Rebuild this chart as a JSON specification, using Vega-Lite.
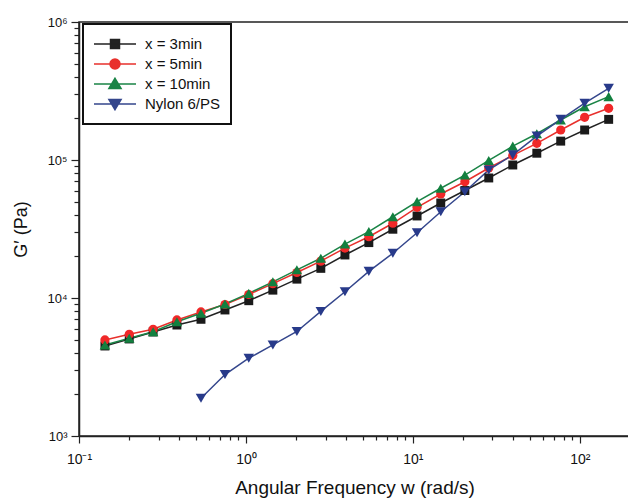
{
  "$schema": "https://vega.github.io/schema/vega-lite/v6.json",
  "width": 551,
  "height": 414,
  "autosize": "none",
  "padding": {"left": 79, "top": 22, "right": 0, "bottom": 64},
  "background": "white",
  "config": {
    "view": {"stroke": "#222", "strokeWidth": 1.5},
    "font": "Liberation Sans",
    "axis": {"grid": false, "labelFlush": false, "labelOverlap": false, "domainColor": "#222", "domainWidth": 1.5, "tickColor": "#222", "tickWidth": 1.2, "labelFontSize": 14, "labelColor": "#111", "titleFontSize": 19, "titleFontWeight": "normal", "titleColor": "#111", "titleFont": "Liberation Sans", "labelFont": "Liberation Sans"}
  },
  "data": {
    "values": [
      {"series": "x = 3min", "w": 0.143, "g": 4490}, {"series": "x = 3min", "w": 0.2, "g": 5050}, {"series": "x = 3min", "w": 0.278, "g": 5670}, {"series": "x = 3min", "w": 0.386, "g": 6370}, {"series": "x = 3min", "w": 0.538, "g": 7010}, {"series": "x = 3min", "w": 0.749, "g": 8190}, {"series": "x = 3min", "w": 1.04, "g": 9560}, {"series": "x = 3min", "w": 1.45, "g": 11400}, {"series": "x = 3min", "w": 2.02, "g": 13700}, {"series": "x = 3min", "w": 2.81, "g": 16400}, {"series": "x = 3min", "w": 3.92, "g": 20500}, {"series": "x = 3min", "w": 5.45, "g": 25200}, {"series": "x = 3min", "w": 7.59, "g": 31500}, {"series": "x = 3min", "w": 10.6, "g": 39300}, {"series": "x = 3min", "w": 14.7, "g": 48800}, {"series": "x = 3min", "w": 20.5, "g": 60100}, {"series": "x = 3min", "w": 28.5, "g": 74100}, {"series": "x = 3min", "w": 39.7, "g": 92000}, {"series": "x = 3min", "w": 55.3, "g": 112000}, {"series": "x = 3min", "w": 76.9, "g": 137000}, {"series": "x = 3min", "w": 107, "g": 165000}, {"series": "x = 3min", "w": 149, "g": 197000},
      {"series": "x = 5min", "w": 0.143, "g": 4970}, {"series": "x = 5min", "w": 0.2, "g": 5460}, {"series": "x = 5min", "w": 0.278, "g": 5930}, {"series": "x = 5min", "w": 0.386, "g": 6930}, {"series": "x = 5min", "w": 0.538, "g": 7920}, {"series": "x = 5min", "w": 0.749, "g": 8970}, {"series": "x = 5min", "w": 1.04, "g": 10600}, {"series": "x = 5min", "w": 1.45, "g": 12700}, {"series": "x = 5min", "w": 2.02, "g": 15300}, {"series": "x = 5min", "w": 2.81, "g": 18500}, {"series": "x = 5min", "w": 3.92, "g": 23000}, {"series": "x = 5min", "w": 5.45, "g": 27800}, {"series": "x = 5min", "w": 7.59, "g": 34800}, {"series": "x = 5min", "w": 10.6, "g": 45400}, {"series": "x = 5min", "w": 14.7, "g": 56700}, {"series": "x = 5min", "w": 20.5, "g": 69600}, {"series": "x = 5min", "w": 28.5, "g": 87500}, {"series": "x = 5min", "w": 39.7, "g": 108000}, {"series": "x = 5min", "w": 55.3, "g": 132000}, {"series": "x = 5min", "w": 76.9, "g": 165000}, {"series": "x = 5min", "w": 107, "g": 204000}, {"series": "x = 5min", "w": 149, "g": 237000},
      {"series": "x = 10min", "w": 0.143, "g": 4570}, {"series": "x = 10min", "w": 0.2, "g": 5110}, {"series": "x = 10min", "w": 0.278, "g": 5700}, {"series": "x = 10min", "w": 0.386, "g": 6730}, {"series": "x = 10min", "w": 0.538, "g": 7750}, {"series": "x = 10min", "w": 0.749, "g": 9050}, {"series": "x = 10min", "w": 1.04, "g": 10800}, {"series": "x = 10min", "w": 1.45, "g": 13100}, {"series": "x = 10min", "w": 2.02, "g": 16000}, {"series": "x = 10min", "w": 2.81, "g": 19400}, {"series": "x = 10min", "w": 3.92, "g": 24600}, {"series": "x = 10min", "w": 5.45, "g": 30300}, {"series": "x = 10min", "w": 7.59, "g": 38800}, {"series": "x = 10min", "w": 10.6, "g": 49900}, {"series": "x = 10min", "w": 14.7, "g": 62400}, {"series": "x = 10min", "w": 20.5, "g": 77800}, {"series": "x = 10min", "w": 28.5, "g": 99200}, {"series": "x = 10min", "w": 39.7, "g": 126000}, {"series": "x = 10min", "w": 55.3, "g": 155000}, {"series": "x = 10min", "w": 76.9, "g": 195000}, {"series": "x = 10min", "w": 107, "g": 243000}, {"series": "x = 10min", "w": 149, "g": 288000},
      {"series": "Nylon 6/PS", "w": 0.538, "g": 1880}, {"series": "Nylon 6/PS", "w": 0.749, "g": 2790}, {"series": "Nylon 6/PS", "w": 1.04, "g": 3660}, {"series": "Nylon 6/PS", "w": 1.45, "g": 4570}, {"series": "Nylon 6/PS", "w": 2.02, "g": 5720}, {"series": "Nylon 6/PS", "w": 2.81, "g": 7990}, {"series": "Nylon 6/PS", "w": 3.92, "g": 11100}, {"series": "Nylon 6/PS", "w": 5.45, "g": 15600}, {"series": "Nylon 6/PS", "w": 7.59, "g": 21100}, {"series": "Nylon 6/PS", "w": 10.6, "g": 29700}, {"series": "Nylon 6/PS", "w": 14.7, "g": 42200}, {"series": "Nylon 6/PS", "w": 20.5, "g": 58900}, {"series": "Nylon 6/PS", "w": 28.5, "g": 84700}, {"series": "Nylon 6/PS", "w": 39.7, "g": 109000}, {"series": "Nylon 6/PS", "w": 55.3, "g": 149000}, {"series": "Nylon 6/PS", "w": 76.9, "g": 197000}, {"series": "Nylon 6/PS", "w": 107, "g": 258000}, {"series": "Nylon 6/PS", "w": 149, "g": 331000}
    ]
  },
  "encoding": {
    "x": {
      "field": "w", "type": "quantitative",
      "scale": {"type": "log", "domain": [0.1, 200]},
      "axis": {
        "title": "Angular Frequency w (rad/s)",
        "values": [0.1, 0.2, 0.3, 0.4, 0.5, 0.6, 0.7, 0.8, 0.9, 1, 2, 3, 4, 5, 6, 7, 8, 9, 10, 20, 30, 40, 50, 60, 70, 80, 90, 100, 200],
        "labelExpr": "abs(log(datum.value)/LN10 - round(log(datum.value)/LN10)) < 0.001 ? (round(log(datum.value)/LN10) == -1 ? '10⁻¹' : round(log(datum.value)/LN10) == 0 ? '10⁰' : round(log(datum.value)/LN10) == 1 ? '10¹' : '10²') : ''",
        "tickSize": {"condition": {"test": "abs(log(datum.value)/LN10 - round(log(datum.value)/LN10)) < 0.001", "value": 7}, "value": 4},
        "labelPadding": 9,
        "titlePadding": 12
      }
    },
    "y": {
      "field": "g", "type": "quantitative",
      "scale": {"type": "log", "domain": [1000, 1000000]},
      "axis": {
        "title": "G′ (Pa)",
        "titleFontSize": 18,
        "values": [1000, 2000, 3000, 4000, 5000, 6000, 7000, 8000, 9000, 10000, 20000, 30000, 40000, 50000, 60000, 70000, 80000, 90000, 100000, 200000, 300000, 400000, 500000, 600000, 700000, 800000, 900000, 1000000],
        "labelExpr": "abs(log(datum.value)/LN10 - round(log(datum.value)/LN10)) < 0.001 ? (round(log(datum.value)/LN10) == 3 ? '10³' : round(log(datum.value)/LN10) == 4 ? '10⁴' : round(log(datum.value)/LN10) == 5 ? '10⁵' : '10⁶') : ''",
        "labelFontSize": 13,
        "tickSize": {"condition": {"test": "abs(log(datum.value)/LN10 - round(log(datum.value)/LN10)) < 0.001", "value": 8}, "value": 5},
        "labelPadding": 4,
        "titlePadding": 16
      }
    }
  },
  "layer": [
    {
      "mark": {"type": "point", "filled": true, "opacity": 0},
      "encoding": {
        "color": {"field": "series", "type": "nominal", "scale": {"domain": ["x = 3min", "x = 5min", "x = 10min", "Nylon 6/PS"], "range": ["#222222", "#e8302c", "#1a8446", "#34468c"]},
          "legend": {"title": null, "orient": "none", "legendX": 4, "legendY": 2, "symbolSize": 1764, "clipHeight": 20, "labelFontSize": 15, "labelFont": "Liberation Sans", "labelColor": "#111", "labelOffset": 8, "strokeColor": "#111", "fillColor": "white", "padding": 10, "rowPadding": 0, "symbolStrokeWidth": 1.5, "symbolOpacity": 1,
            "encode": {
              "symbols": {"update": {"fill": {"scale": "color", "field": "value"}, "stroke": {"scale": "color", "field": "value"}, "fillOpacity": {"value": 1}, "strokeOpacity": {"value": 1}, "opacity": {"value": 1}}},
              "legend": {"update": {"strokeWidth": {"value": 2}}}
            }}},
        "shape": {"field": "series", "type": "nominal", "scale": {"domain": ["x = 3min", "x = 5min", "x = 10min", "Nylon 6/PS"], "range": ["M-1,0H1M-0.214,-0.214H0.214V0.214H-0.214Z", "M-1,0H1M-0.238,0A0.238,0.238,0,1,0,0.238,0A0.238,0.238,0,1,0,-0.238,0Z", "M-1,0H1M0,-0.27L0.29,0.22L-0.29,0.22Z", "M-1,0H1M0,0.27L0.29,-0.22L-0.29,-0.22Z"]}}
      }
    },
    {
      "mark": {"type": "line", "strokeWidth": 1.5},
      "encoding": {
        "color": {"field": "series", "type": "nominal", "legend": null},
        "detail": {"field": "series"}
      }
    },
    {
      "transform": [{"filter": "datum.series == 'x = 3min'"}],
      "mark": {"type": "point", "shape": "square", "filled": true, "size": 80, "color": "#1a1a1a", "opacity": 1}
    },
    {
      "transform": [{"filter": "datum.series == 'x = 5min'"}],
      "mark": {"type": "point", "shape": "circle", "filled": true, "size": 85, "color": "#f02828", "opacity": 1}
    },
    {
      "transform": [{"filter": "datum.series == 'x = 10min'"}],
      "mark": {"type": "point", "shape": "triangle-up", "filled": true, "size": 110, "color": "#12803f", "opacity": 1}
    },
    {
      "transform": [{"filter": "datum.series == 'Nylon 6/PS'"}],
      "mark": {"type": "point", "shape": "triangle-down", "filled": true, "size": 110, "color": "#283a8a", "opacity": 1}
    }
  ]
}
